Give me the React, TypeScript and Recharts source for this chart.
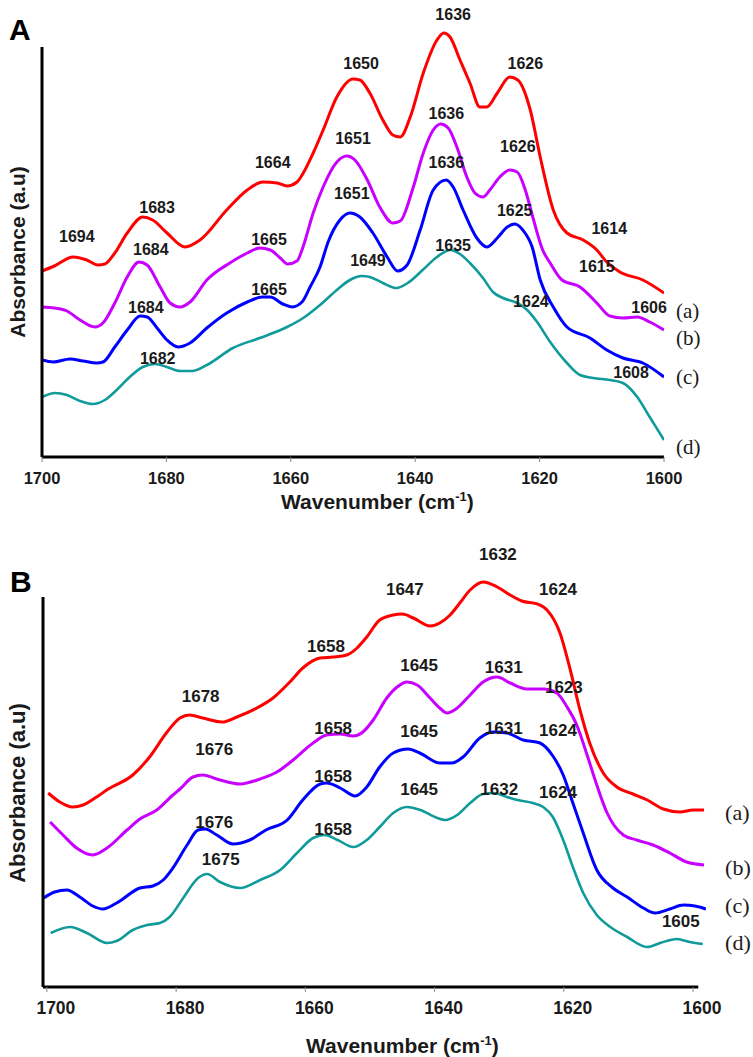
import React from "react";
import { LineChart, Line, XAxis, YAxis, ReferenceLine, ReferenceDot } from "recharts";

type Pt = [number, number]; // [wavenumber, absorbance (a.u.)]

const SANS = '"Liberation Sans", Arial, Helvetica, sans-serif';
const SERIF = '"Liberation Serif", "Times New Roman", serif';

const xTicks = [1700, 1680, 1660, 1640, 1620, 1600];
const tagNames = ["(a)", "(b)", "(c)", "(d)"];
const colors = ["#ff0000", "#c800ff", "#0000ff", "#109a9a"];

// ---- panel A spectra ----
const specA_a: Pt[] = [
  [1700, 186], [1698, 191], [1695, 200], [1692.8, 197], [1691, 192], [1689.9, 193], [1688.3, 204],
  [1686.3, 224], [1683.8, 240], [1682.2, 237], [1679.9, 224], [1677, 210], [1674.6, 217], [1670.3, 247],
  [1667, 267], [1664.5, 275], [1662.2, 274], [1660.6, 271], [1659, 275], [1658, 284], [1656.4, 304],
  [1654.8, 327], [1652.6, 360], [1650, 378], [1648.9, 377], [1647.3, 364], [1645.2, 337], [1643.6, 322],
  [1642.4, 320], [1640.8, 340], [1638.7, 384], [1636.5, 417], [1635.4, 424], [1634.4, 420], [1632.8, 397],
  [1631.2, 374], [1629.6, 350], [1628.5, 350], [1626.8, 364], [1624.8, 380], [1623.5, 377], [1621.5, 347],
  [1619.9, 300], [1617.8, 247], [1615.6, 224], [1613, 217], [1610.8, 207], [1609.2, 195], [1607.1, 185],
  [1603.4, 177], [1600, 164],
];
const specA_b: Pt[] = [
  [1700, 150], [1698, 149], [1696, 146], [1693.9, 137], [1691.5, 130], [1690.2, 134], [1688.3, 154],
  [1686.3, 180], [1684.4, 195], [1683.1, 192], [1681, 170], [1679.4, 154], [1677.8, 150], [1676.2, 155],
  [1673.5, 177], [1669.8, 194], [1667, 204], [1665, 209], [1663.3, 207], [1661.7, 199], [1660.5, 193],
  [1659, 196], [1658.2, 207], [1656.4, 244], [1654.8, 270], [1652.6, 295], [1651, 301], [1649.7, 297],
  [1647.7, 277], [1645.7, 250], [1643.6, 234], [1642.4, 236], [1640.4, 268], [1638.7, 304], [1637.1, 327],
  [1635.9, 333], [1634.7, 329], [1633.3, 310], [1631.7, 280], [1630.4, 264], [1629.1, 260], [1628, 267],
  [1626.4, 280], [1624.8, 287], [1623.6, 285], [1622.3, 267], [1621.1, 240], [1619.5, 207], [1618.3, 194],
  [1616.4, 177], [1613.5, 170], [1610.8, 154], [1608.7, 141], [1606.6, 139], [1604.3, 140], [1602.3, 135],
  [1600, 127],
];
const specA_c: Pt[] = [
  [1700, 97], [1698.2, 95], [1695.5, 98], [1693.4, 96], [1691.2, 94], [1690.2, 95], [1688.3, 110],
  [1686.3, 127], [1684.2, 141], [1683.1, 140], [1681.5, 129], [1679.9, 117], [1678.1, 110], [1676.2, 114],
  [1673.5, 129], [1670.3, 144], [1667, 155], [1664.6, 160], [1663.3, 160], [1661.3, 153], [1659.8, 150],
  [1658.2, 155], [1656.9, 170], [1655.3, 190], [1654, 215], [1652.1, 237], [1650.5, 244], [1648.9, 240],
  [1646.8, 224], [1644.5, 200], [1642.8, 186], [1641.3, 192], [1639.2, 227], [1637.1, 267], [1635, 277],
  [1633.9, 270], [1632.3, 247], [1630.1, 219], [1628.5, 210], [1626.8, 219], [1625.2, 230], [1624, 233],
  [1622.7, 227], [1621.2, 210], [1619.9, 177], [1617.8, 150], [1615.6, 130], [1611.9, 119], [1609.2, 107],
  [1606.6, 99], [1603.4, 94], [1600, 80],
];
const specA_d: Pt[] = [
  [1700, 60], [1697.9, 64], [1696, 62], [1693.9, 56], [1691.8, 53], [1689.9, 57], [1688, 67],
  [1685.9, 80], [1683.8, 90], [1681.8, 93], [1679.9, 90], [1677.8, 86], [1675.9, 86], [1673.5, 92],
  [1669.3, 109], [1665, 119], [1660.6, 130], [1658, 139], [1655.3, 152], [1652.6, 167], [1650.5, 177],
  [1648.6, 181], [1647.3, 180], [1645.2, 174], [1643, 169], [1641.2, 174], [1638.8, 187], [1636.5, 200],
  [1634.4, 207], [1632.8, 203], [1631.2, 194], [1629.1, 179], [1627.5, 165], [1625.9, 159], [1623.6, 154],
  [1622, 147], [1620.4, 135], [1618.3, 115], [1615.6, 94], [1613.5, 82], [1611.4, 79], [1608.7, 77],
  [1606.6, 74], [1604.3, 60], [1602.3, 40], [1600, 17],
];

// ---- panel B spectra ----
const specB_a: Pt[] = [
  [1699.8, 194], [1698, 185], [1696, 180], [1694.4, 182], [1692.3, 190], [1690.5, 198], [1686.7, 212],
  [1684.1, 230], [1681.4, 255], [1679.4, 269], [1677.9, 272], [1675.9, 269], [1672.9, 265], [1670.6, 270],
  [1667.5, 279], [1665, 289], [1662.4, 305], [1660.4, 319], [1657.7, 329], [1655.7, 330], [1653.6, 332],
  [1652, 339], [1650.5, 350], [1648.5, 367], [1646.4, 372], [1645, 373], [1643.3, 369], [1640.7, 361],
  [1639.2, 364], [1637.6, 372], [1636.1, 384], [1634.5, 397], [1632.5, 405], [1630.3, 400], [1628.3, 392],
  [1626.5, 386], [1624.1, 383], [1622.6, 377], [1620.6, 354], [1619, 317], [1617.5, 277], [1616, 244],
  [1613.9, 214], [1611.8, 200], [1609.3, 193], [1607.1, 187], [1604.6, 178], [1602, 175], [1600, 177],
  [1598.3, 177],
];
const specB_b: Pt[] = [
  [1699.5, 165], [1697.5, 152], [1695.4, 139], [1692.9, 132], [1690.7, 139], [1687.6, 157], [1685.6, 168],
  [1683, 177], [1680.5, 192], [1679.4, 198], [1677.4, 210], [1675.9, 212], [1673.2, 207], [1670.1, 203],
  [1667, 208], [1664.4, 215], [1661.9, 227], [1658.8, 244], [1656.7, 252], [1654.6, 253], [1652.6, 251],
  [1651.1, 255], [1649.5, 267], [1647.4, 289], [1645.8, 300], [1644.3, 305], [1642.7, 302], [1640.7, 289],
  [1639.2, 279], [1638.1, 274], [1636.5, 279], [1634.5, 292], [1632.5, 305], [1630.3, 310], [1628.3, 304],
  [1625.7, 298], [1623.2, 298], [1621.1, 294], [1619.5, 280], [1618, 262], [1616.4, 232], [1614.9, 202],
  [1613.3, 174], [1610.8, 152], [1608.7, 147], [1606.2, 142], [1603.6, 134], [1601, 125], [1598.3, 122],
];
const specB_c: Pt[] = [
  [1700.5, 89], [1698.8, 95], [1696.9, 97], [1694.9, 90], [1692.9, 81], [1691.3, 78], [1689.2, 84],
  [1685.6, 99], [1683.6, 101], [1682, 107], [1680.5, 119], [1678.3, 142], [1676.6, 157], [1675.5, 158],
  [1673.7, 152], [1671.2, 143], [1668.6, 147], [1666.1, 157], [1662.8, 167], [1660.4, 187], [1657.7, 203],
  [1656.7, 204], [1654.6, 199], [1652.3, 191], [1650.5, 200], [1648.5, 220], [1646.4, 234], [1644.1, 238],
  [1642.3, 234], [1639.2, 224], [1637.3, 224], [1635.6, 230], [1633, 249], [1631, 255], [1628.8, 254],
  [1626.3, 247], [1623.7, 244], [1621.7, 231], [1620.1, 212], [1618.6, 184], [1617, 154], [1614.9, 117],
  [1612.4, 99], [1610.2, 90], [1607.7, 79], [1605.9, 74], [1603.6, 78], [1601.5, 82], [1599.7, 81],
  [1598, 78],
];
const specB_d: Pt[] = [
  [1699.4, 54], [1696.4, 60], [1693.8, 54], [1690.7, 44], [1689.2, 46], [1686.7, 57], [1684.5, 62],
  [1682.5, 64], [1681, 70], [1678.9, 89], [1676.6, 109], [1675.2, 113], [1673.2, 105], [1670.1, 99],
  [1667, 107], [1663.9, 117], [1661.3, 134], [1658.8, 149], [1657, 152], [1655, 147], [1652.6, 140],
  [1650.5, 147], [1648.5, 160], [1646.4, 174], [1644.3, 180], [1642.2, 177], [1639.6, 169], [1638.4, 167],
  [1636.5, 172], [1634.5, 184], [1632.5, 193], [1630.9, 194], [1628.8, 190], [1627.2, 187], [1624.8, 184],
  [1623.2, 180], [1621.7, 170], [1620.1, 147], [1618.6, 120], [1617, 94], [1614.9, 72], [1612.8, 60],
  [1610.2, 50], [1607.1, 40], [1605.1, 44], [1602.5, 48], [1600.5, 45], [1598.5, 43],
];

// peak annotations: [wavenumber, absorbance, text]
type Peak = [number, number, string];
const peaksA: Peak[] = [
  [1694.4, 221, "1694"], [1681.5, 250, "1683"], [1662.9, 295, "1664"], [1648.7, 394, "1650"],
  [1633.9, 443, "1636"], [1622.3, 394, "1626"], [1608.8, 229, "1614"],
  [1682.5, 208, "1684"], [1663.5, 218, "1665"], [1650, 319, "1651"], [1635, 344, "1636"],
  [1623.5, 311, "1626"], [1610.8, 191, "1615"], [1602.4, 150, "1606"],
  [1683.3, 150, "1684"], [1663.5, 168, "1665"], [1650.2, 264, "1651"], [1635, 295, "1636"],
  [1624, 247, "1625"],
  [1681.4, 99, "1682"], [1647.6, 197, "1649"], [1633.9, 212, "1635"], [1621.4, 156, "1624"],
  [1605.3, 85, "1608"],
];
const peaksB: Peak[] = [
  [1676.2, 291, "1678"], [1656.8, 341, "1658"], [1644.6, 398, "1647"], [1630.2, 433, "1632"],
  [1620.9, 398, "1624"],
  [1674.1, 238, "1676"], [1655.7, 259, "1658"], [1642.4, 322, "1645"], [1629.3, 320, "1631"],
  [1620, 300, "1623"],
  [1674.1, 165, "1676"], [1655.7, 211, "1658"], [1642.4, 256, "1645"], [1629.3, 259, "1631"],
  [1620.9, 257, "1624"],
  [1673.1, 128, "1675"], [1655.7, 158, "1658"], [1642.4, 198, "1645"], [1630, 198, "1632"],
  [1620.9, 195, "1624"], [1601.9, 66, "1605"],
];
// absorbance level of each (a)-(d) tag at the right edge
const tagsA = [146, 119, 80, 10];
const tagsB = [175, 120, 82, 45];

const rows = (s: Pt[]) => s.map(([wn, abs]) => ({ wn, abs }));

interface PanelProps {
  letter: string;
  top: number;
  height: number;
  marginTop: number;
  marginRight: number;
  yAxisWidth: number;
  xAxisHeight: number;
  xDomain: [number, number];
  yMax: number;
  axisX: [number, number];
  axisYTop: number;
  specs: Pt[][];
  peaks: Peak[];
  tags: number[];
  tagOffset: number;
  tagSize: number;
  tickDx: number;
  tickSize: number;
  peakSize: number;
  titleSize: number;
  yTitleSize: number;
  titleX: number;
  titleY: number;
  yTitleY: number;
  letterX: number;
  letterY: number;
}

function Panel(p: PanelProps) {
  const renderTick = (props: any) => (
    <text
      x={props.x + p.tickDx}
      y={props.y}
      dy="0.71em"
      textAnchor="middle"
      fill="#1a1a1a"
      fontSize={p.tickSize}
      fontWeight={700}
      fontFamily={SANS}
    >
      {props.payload.value}
    </text>
  );
  const renderXTitle = () => (
    <text x={p.titleX} y={p.titleY} fill="#1a1a1a" fontSize={p.titleSize} fontWeight={700} fontFamily={SANS}>
      Wavenumber (cm
      <tspan dy={-8} fontSize={p.titleSize * 0.62}>-1</tspan>
      <tspan dy={8}>)</tspan>
    </text>
  );
  const renderYTitle = () => (
    <g>
      <text x={p.letterX} y={p.letterY} fill="#000" fontSize={30} fontWeight={700} fontFamily={SANS}>
        {p.letter}
      </text>
      <text
        x={17}
        y={p.yTitleY}
        transform={`rotate(-90, 17, ${p.yTitleY})`}
        textAnchor="middle"
        dominantBaseline="central"
        fill="#1a1a1a"
        fontSize={p.yTitleSize}
        fontWeight={700}
        fontFamily={SANS}
      >
        Absorbance (a.u)
      </text>
    </g>
  );
  const peakLabel = (text: string) => (props: any) => {
    const vb = props.viewBox || {};
    return (
      <text
        x={vb.x + (vb.width || 0) / 2}
        y={vb.y + (vb.height || 0) / 2}
        textAnchor="middle"
        dominantBaseline="central"
        fill="#1a1a1a"
        fontSize={p.peakSize}
        fontWeight={700}
        fontFamily={SANS}
      >
        {text}
      </text>
    );
  };
  const tagLabel = (text: string) => (props: any) => {
    const vb = props.viewBox || {};
    return (
      <text
        x={vb.x + (vb.width || 0) + p.tagOffset}
        y={vb.y + (vb.height || 0) / 2}
        dominantBaseline="central"
        fill="#1a1a1a"
        fontSize={p.tagSize}
        fontFamily={SERIF}
      >
        {text}
      </text>
    );
  };

  return (
    <div style={{ position: "absolute", left: 0, top: p.top }}>
      <LineChart
        width={753}
        height={p.height}
        margin={{ top: p.marginTop, right: p.marginRight, bottom: 0, left: 0 }}
      >
        <XAxis
          type="number"
          dataKey="wn"
          domain={p.xDomain}
          reversed
          allowDataOverflow
          ticks={xTicks}
          interval={0}
          height={p.xAxisHeight}
          axisLine={false}
          tickLine={{ stroke: "#888", strokeWidth: 1 }}
          tickSize={5}
          tickMargin={10}
          tick={renderTick}
          label={renderXTitle}
        />
        <YAxis
          type="number"
          domain={[0, p.yMax]}
          allowDataOverflow
          width={p.yAxisWidth}
          tick={false}
          tickLine={false}
          axisLine={false}
          label={renderYTitle}
        />
        {p.specs.map((s, i) => (
          <Line
            key={i}
            data={rows(s)}
            dataKey="abs"
            type="monotone"
            stroke={colors[i]}
            strokeWidth={i === 3 ? 2.6 : 3}
            dot={false}
            activeDot={false}
            isAnimationActive={false}
          />
        ))}
        <ReferenceLine
          segment={[{ x: p.axisX[0], y: 0 }, { x: p.axisX[1], y: 0 }]}
          stroke="#000"
          strokeWidth={3}
          ifOverflow="visible"
        />
        <ReferenceLine
          segment={[{ x: p.axisX[0], y: 0 }, { x: p.axisX[0], y: p.axisYTop }]}
          stroke="#000"
          strokeWidth={3}
          ifOverflow="visible"
        />
        {p.peaks.map(([wn, abs, text], i) => (
          <ReferenceDot
            key={`pk${i}`}
            x={wn}
            y={abs}
            r={0}
            fill="none"
            stroke="none"
            ifOverflow="visible"
            label={peakLabel(text)}
          />
        ))}
        {p.tags.map((abs, i) => (
          <ReferenceDot
            key={`tg${i}`}
            x={1600}
            y={abs}
            r={0}
            fill="none"
            stroke="none"
            ifOverflow="visible"
            label={tagLabel(tagNames[i])}
          />
        ))}
      </LineChart>
    </div>
  );
}

export default function App() {
  return (
    <div
      style={{
        position: "absolute",
        left: 0,
        top: 0,
        width: 753,
        height: 1057,
        background: "#fff",
        fontFamily: SANS,
      }}
    >
      <Panel
        letter="A"
        top={0}
        height={520}
        marginTop={5}
        marginRight={89}
        yAxisWidth={42}
        xAxisHeight={63}
        xDomain={[1600, 1700]}
        yMax={452}
        axisX={[1700, 1600]}
        axisYTop={410}
        specs={[specA_a, specA_b, specA_c, specA_d]}
        peaks={peaksA}
        tags={tagsA}
        tagOffset={12}
        tagSize={21}
        tickDx={0}
        tickSize={16.5}
        peakSize={16}
        titleSize={21}
        yTitleSize={21}
        titleX={281}
        titleY={509}
        yTitleY={252}
        letterX={9}
        letterY={40}
      />
      <Panel
        letter="B"
        top={530}
        height={527}
        marginTop={15}
        marginRight={47}
        yAxisWidth={43}
        xAxisHeight={70}
        xDomain={[1598, 1700.6]}
        yMax={442}
        axisX={[1700.6, 1599.2]}
        axisYTop={390}
        specs={[specB_a, specB_b, specB_c, specB_d]}
        peaks={peaksB}
        tags={tagsB}
        tagOffset={32}
        tagSize={22}
        tickDx={9}
        tickSize={17.5}
        peakSize={17}
        titleSize={21}
        yTitleSize={22}
        titleX={306}
        titleY={523}
        yTitleY={263}
        letterX={10}
        letterY={62}
      />
    </div>
  );
}
